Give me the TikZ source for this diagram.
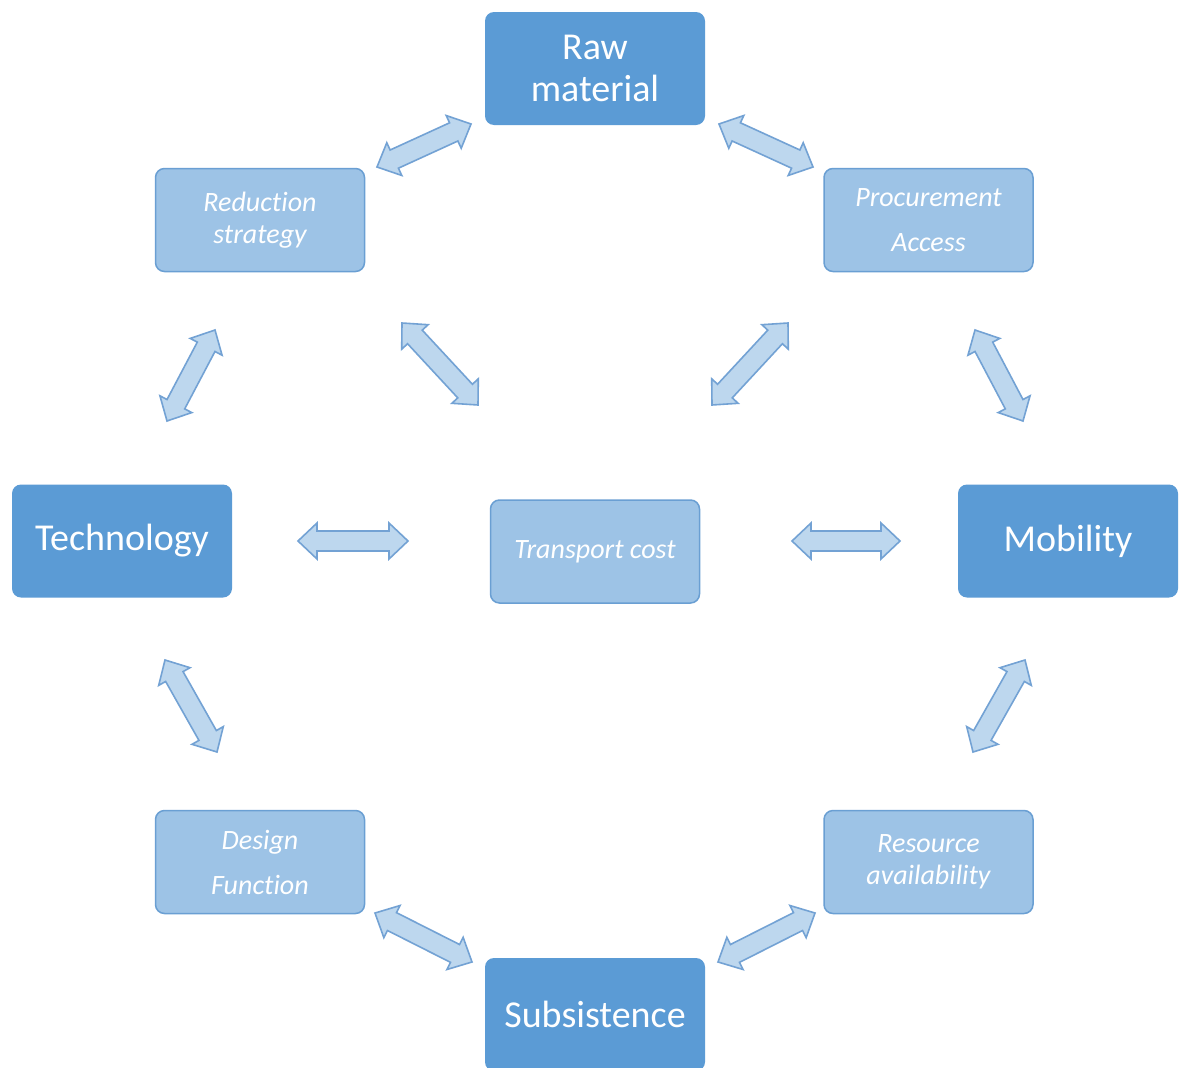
\documentclass[tikz,border=0pt]{standalone}
\usepackage{fontspec}
\setmainfont{Carlito}[Ligatures=NoCommon, RawFeature={-liga;-clig;-calt;-dlig}]
\usetikzlibrary{calc}
\definecolor{darkbox}{HTML}{5B9BD5}
\definecolor{lightbox}{HTML}{9DC3E6}
\definecolor{lightedge}{HTML}{6A9FD3}
\definecolor{arrfill}{HTML}{BDD7EE}
\definecolor{arredge}{HTML}{73A2D4}
\tikzset{
  mainbox/.style={draw=none, fill=darkbox, rounded corners=9pt, minimum width=220pt, minimum height=113pt, inner sep=0pt, text=white, align=center, font=\fontsize{38}{42}\selectfont},
  subbox/.style={draw=lightedge, line width=1.5pt, fill=lightbox, rounded corners=9pt, minimum width=209pt, minimum height=103pt, inner sep=0pt, text=white, align=center, font=\fontsize{28}{32}\selectfont\itshape},
  arrowbody/.style={draw=arredge, fill=arrfill, line width=1.6pt, line join=miter}
}
\newcommand\dblarr[2]{%
\path[arrowbody] let \p1=(#1),\p2=(#2),\n1={atan2(\y2-\y1,\x2-\x1)} in
 (\p1) -- ($(\p1)+(\n1:19pt)+(\n1+90:18pt)$) -- ($(\p1)+(\n1:19pt)+(\n1+90:10pt)$)
 -- ($(\p2)+(\n1+180:19pt)+(\n1+90:10pt)$) -- ($(\p2)+(\n1+180:19pt)+(\n1+90:18pt)$)
 -- (\p2) -- ($(\p2)+(\n1+180:19pt)+(\n1-90:18pt)$) -- ($(\p2)+(\n1+180:19pt)+(\n1-90:10pt)$)
 -- ($(\p1)+(\n1:19pt)+(\n1-90:10pt)$) -- ($(\p1)+(\n1:19pt)+(\n1-90:18pt)$) -- cycle;}
\begin{document}
\begin{tikzpicture}[x=1pt,y=-1pt]
\useasboundingbox[fill=white] (0,0) rectangle (1181,1068);
% main boxes
\node[mainbox] (raw) at (595,68.5) {Raw\\material};
\node[mainbox] (tech) at (122,541) {Technology};
\node[mainbox] (mob) at (1068,541) {Mobility};
\begin{scope}
\clip (0,0) rectangle (1181,1068);
\node[mainbox] (sub) at (595,1014.5) {Subsistence};
\end{scope}
% sub boxes
\node[subbox] (red) at (260,220) {Reduction\\strategy};
\node[subbox] (proc) at (928.5,220) {Procurement\\[13pt]Access};
\node[subbox] (trans) at (595,551.5) {Transport cost};
\node[subbox] (des) at (260,862) {Design\\[13pt]Function};
\node[subbox] (res) at (928.5,862) {Resource\\availability};
% arrow end points
\coordinate (redA) at (377,167);  \coordinate (rawA) at (471,124);
\coordinate (rawB) at (719,124);  \coordinate (procA) at (813,167);
\coordinate (redB) at (215,330);  \coordinate (techA) at (167,421);
\coordinate (redC) at (402,323);  \coordinate (transA) at (478,405);
\coordinate (procB) at (788,323); \coordinate (transB) at (712,405);
\coordinate (procC) at (975,330); \coordinate (mobA) at (1023,421);
\coordinate (techB) at (298,541); \coordinate (transC) at (408,541);
\coordinate (transD) at (792,541);\coordinate (mobB) at (900,541);
\coordinate (techC) at (165,660); \coordinate (desA) at (217,752);
\coordinate (mobC) at (1025,660); \coordinate (resA) at (973,752);
\coordinate (desB) at (375,913);  \coordinate (subA) at (472,962);
\coordinate (resB) at (815,913);  \coordinate (subB) at (718,962);
\dblarr{redA}{rawA}
\dblarr{rawB}{procA}
\dblarr{redB}{techA}
\dblarr{redC}{transA}
\dblarr{procB}{transB}
\dblarr{procC}{mobA}
\dblarr{techB}{transC}
\dblarr{transD}{mobB}
\dblarr{techC}{desA}
\dblarr{mobC}{resA}
\dblarr{desB}{subA}
\dblarr{resB}{subB}
\end{tikzpicture}
\end{document}
